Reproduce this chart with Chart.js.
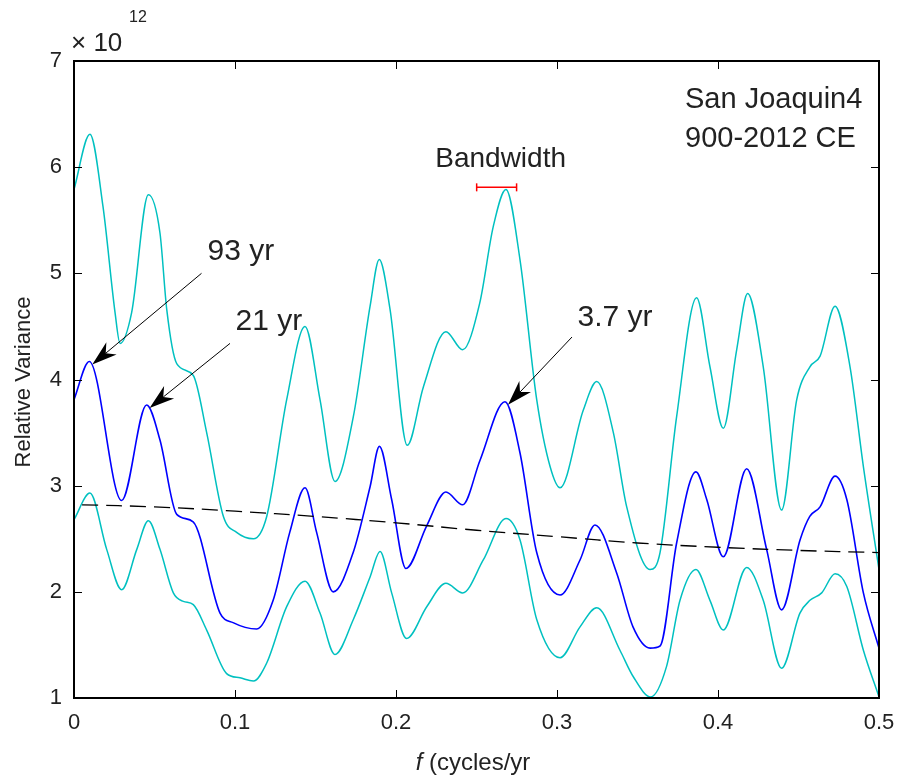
<!DOCTYPE html>
<html>
<head>
<meta charset="utf-8">
<script src="https://cdn.jsdelivr.net/npm/chart.js@4.4.0/dist/chart.umd.min.js"></script>
<style>
  html, body { margin: 0; padding: 0; background: #fff; }
  #wrap { width: 903px; height: 777px; }
</style>
</head>
<body>
<div id="wrap"><canvas id="myChart" width="903" height="777"></canvas></div>
<script>
// spectrum values, in units of 1e12
var meanFreq = [0, 0.0095, 0.0296, 0.0451, 0.0534, 0.0638, 0.074, 0.0907, 0.0988, 0.1135, 0.1237, 0.134, 0.1435, 0.1507, 0.161,
    0.1734, 0.1839, 0.1897, 0.1973, 0.2062, 0.219, 0.231, 0.2414, 0.2522, 0.2677, 0.277, 0.2874, 0.3019, 0.3143, 0.3236,
    0.337, 0.3472, 0.3578, 0.364, 0.3743, 0.3863, 0.393, 0.4033, 0.4178, 0.4302, 0.4395, 0.451, 0.457, 0.4634, 0.4727,
    0.48, 0.4903, 0.5];
var meanVals = [3.81, 4.17, 2.86, 3.76, 3.43, 2.73, 2.66, 1.80, 1.71, 1.65, 1.92, 2.56, 2.98, 2.56, 2.00,
    2.37, 2.99, 3.37, 2.87, 2.22, 2.62, 2.94, 2.82, 3.24, 3.79, 3.31, 2.37, 1.97, 2.30, 2.63,
    2.18, 1.67, 1.47, 1.49, 2.46, 3.13, 2.87, 2.33, 3.16, 2.40, 1.83, 2.49, 2.71, 2.80, 3.09,
    2.87, 1.99, 1.47];

var upperFreq = [0, 0.0099, 0.018, 0.0255, 0.0286, 0.0358, 0.0462, 0.0534, 0.0576, 0.0638, 0.074, 0.0824, 0.0928, 0.101,
    0.1114, 0.1197, 0.1321, 0.1435, 0.1528, 0.1621, 0.1735, 0.1839, 0.1896, 0.1963, 0.207, 0.217, 0.231, 0.2414, 0.252,
    0.2604, 0.2683, 0.277, 0.2874, 0.2957, 0.3019, 0.3163, 0.3247, 0.335, 0.3433, 0.3578, 0.364, 0.3743, 0.3867, 0.395,
    0.4033, 0.4116, 0.4184, 0.4281, 0.4395, 0.4489, 0.4571, 0.4634, 0.4727, 0.482, 0.4903, 0.5];
var upperVals = [5.79, 6.31, 5.63, 4.63, 4.34, 4.63, 5.74, 5.38, 4.66, 4.15, 4.04, 3.50, 2.71, 2.56,
    2.50, 2.71, 3.81, 4.50, 3.81, 3.04, 3.65, 4.69, 5.13, 4.66, 3.38, 3.93, 4.45, 4.28, 4.72,
    5.44, 5.79, 5.13, 3.81, 3.18, 2.98, 3.71, 3.98, 3.50, 2.80, 2.21, 2.37, 3.65, 4.77, 4.12,
    3.54, 4.28, 4.81, 4.12, 2.77, 3.81, 4.12, 4.22, 4.69, 4.12, 3.18, 2.21];

var lowerFreq = [0, 0.0099, 0.0203, 0.0296, 0.039, 0.0462, 0.0534, 0.0617, 0.0679, 0.0741, 0.0824, 0.0948, 0.1031, 0.1114,
    0.1197, 0.1321, 0.1435, 0.1528, 0.1621, 0.1735, 0.1839, 0.1901, 0.1973, 0.2066, 0.2191, 0.231, 0.2414, 0.2542, 0.2683,
    0.277, 0.2874, 0.3019, 0.3143, 0.3247, 0.3391, 0.3474, 0.3582, 0.3681, 0.3764, 0.3863, 0.395, 0.4033, 0.4178, 0.4281,
    0.4395, 0.4509, 0.4571, 0.4644, 0.4727, 0.48, 0.4903, 0.5];
var lowerVals = [2.68, 2.93, 2.40, 2.02, 2.40, 2.67, 2.40, 1.99, 1.91, 1.88, 1.64, 1.23, 1.19, 1.16,
    1.33, 1.86, 2.10, 1.80, 1.41, 1.74, 2.14, 2.38, 1.99, 1.56, 1.86, 2.08, 1.99, 2.30, 2.69,
    2.49, 1.74, 1.38, 1.67, 1.85, 1.45, 1.20, 1.01, 1.30, 1.92, 2.21, 1.92, 1.64, 2.23, 1.92,
    1.28, 1.80, 1.92, 1.99, 2.17, 2.05, 1.45, 1.01];

// red-noise background
var bgFreq = [0.005, 0.05, 0.1, 0.15, 0.2, 0.25, 0.3, 0.35, 0.4, 0.45, 0.5];
var bgVals = [2.82, 2.80, 2.76, 2.71, 2.65, 2.58, 2.52, 2.46, 2.42, 2.39, 2.37];

// bandwidth bar
var bwFreq = [0.2501, 0.2749];
var bwVals = [5.81, 5.81];

var xTicks = [0, 0.1, 0.2, 0.3, 0.4, 0.5];
var yTicks = [1, 2, 3, 4, 5, 6, 7];

// labelled peaks: text, text position, arrow tail, peak frequency
var peakLabels = ['93 yr', '21 yr', '3.7 yr'];
var peakFreqs = [0.0095, 0.0451, 0.2677];
var labelPos = [[0.1037, 5.20], [0.1211, 4.54], [0.336, 4.58]];
var tailPos = [[0.0792, 5.00], [0.0969, 4.34], [0.3093, 4.40]];

function pts(xs, ys) {
    return xs.map(function (v, i) { return { x: v, y: ys[i] }; });
}

var FONT = '"Liberation Sans", Arial, Helvetica, sans-serif';

function arrow(ctx, x0, y0, x1, y1) {
    var ang = Math.atan2(y1 - y0, x1 - x0);
    var len = 25, hw = 8;
    ctx.save();
    ctx.strokeStyle = '#000';
    ctx.lineWidth = 1;
    ctx.beginPath();
    ctx.moveTo(x0, y0);
    ctx.lineTo(x1 - Math.cos(ang) * len * 0.7, y1 - Math.sin(ang) * len * 0.7);
    ctx.stroke();
    ctx.translate(x1, y1);
    ctx.rotate(ang);
    ctx.fillStyle = '#000';
    ctx.beginPath();
    ctx.moveTo(0, 0);
    ctx.lineTo(-len, -hw);
    ctx.lineTo(-len * 0.7, 0);
    ctx.lineTo(-len, hw);
    ctx.closePath();
    ctx.fill();
    ctx.restore();
}

var decor = {
    id: 'decor',
    afterDraw: function (chart) {
        var ctx = chart.ctx, a = chart.chartArea;
        var x = chart.scales.x, y = chart.scales.y;
        ctx.save();
        // inward ticks on all four sides
        ctx.strokeStyle = '#000';
        ctx.lineWidth = 1;
        ctx.beginPath();
        xTicks.forEach(function (t) {
            var px = Math.round(x.getPixelForValue(t)) + 0.5;
            ctx.moveTo(px, a.bottom); ctx.lineTo(px, a.bottom - 8);
            ctx.moveTo(px, a.top); ctx.lineTo(px, a.top + 8);
        });
        yTicks.forEach(function (t) {
            var py = Math.round(y.getPixelForValue(t)) + 0.5;
            ctx.moveTo(a.left, py); ctx.lineTo(a.left + 8, py);
            ctx.moveTo(a.right, py); ctx.lineTo(a.right - 8, py);
        });
        ctx.stroke();
        ctx.lineWidth = 2;
        ctx.strokeRect(a.left, a.top, a.right - a.left, a.bottom - a.top);

        ctx.fillStyle = '#222';
        // exponent
        ctx.textBaseline = 'alphabetic';
        ctx.textAlign = 'left';
        ctx.font = '26px ' + FONT;
        ctx.fillText('\u00d7 10', 71, 51);
        ctx.font = '16px ' + FONT;
        ctx.fillText('12', 129, 22);

        // axis titles
        ctx.font = '22px ' + FONT;
        ctx.textAlign = 'center';
        ctx.textBaseline = 'middle';
        ctx.save();
        ctx.translate(24, 382);
        ctx.rotate(-Math.PI / 2);
        ctx.fillText('Relative Variance', 0, 0);
        ctx.restore();
        var t1 = 'f', t2 = ' (cycles/yr';
        ctx.font = '24px ' + FONT;
        var w2 = ctx.measureText(t2).width;
        ctx.font = 'italic 24px ' + FONT;
        var w1 = ctx.measureText(t1).width;
        var sx = 473 - (w1 + w2) / 2;
        ctx.textAlign = 'left';
        ctx.fillText(t1, sx, 763);
        ctx.font = '24px ' + FONT;
        ctx.fillText(t2, sx + w1, 763);

        // site label
        ctx.font = '29px ' + FONT;
        ctx.textAlign = 'left';
        ctx.textBaseline = 'alphabetic';
        ctx.fillText('San Joaquin4', 685, 108);
        ctx.fillText('900-2012 CE', 685, 147);

        // bandwidth label
        ctx.textAlign = 'center';
        ctx.font = '28px ' + FONT;
        ctx.fillText('Bandwidth', x.getPixelForValue((bwFreq[0] + bwFreq[1]) / 2) + 4, 167);

        // peak arrows and labels
        peakLabels.forEach(function (txt, i) {
            var k = meanFreq.indexOf(peakFreqs[i]);
            var tipX = x.getPixelForValue(meanFreq[k]) + 3;
            var tipY = y.getPixelForValue(meanVals[k]) + 3;
            arrow(ctx, x.getPixelForValue(tailPos[i][0]), y.getPixelForValue(tailPos[i][1]), tipX, tipY);
            ctx.fillStyle = '#222';
            ctx.textAlign = 'center';
            ctx.textBaseline = 'middle';
            ctx.font = '30px ' + FONT;
            ctx.fillText(txt, x.getPixelForValue(labelPos[i][0]), y.getPixelForValue(labelPos[i][1]));
        });
        ctx.restore();
    }
};

var ctx = document.getElementById('myChart').getContext('2d');
var chart = new Chart(ctx, {
    type: 'line',
    data: {
        datasets: [{
            label: 'Bandwidth',
            data: pts(bwFreq, bwVals),
            borderColor: '#ff0000',
            borderWidth: 1.5,
            pointStyle: 'line',
            rotation: 90,
            pointRadius: 4,
            pointBorderColor: '#ff0000',
            pointBorderWidth: 1.5,
            order: 0
        }, {
            label: 'Background',
            data: pts(bgFreq, bgVals),
            borderColor: '#000',
            borderWidth: 1.3,
            borderDash: [16, 8],
            pointRadius: 0,
            tension: 0.4,
            order: 1
        }, {
            label: 'Spectrum',
            data: pts(meanFreq, meanVals),
            borderColor: '#0000ff',
            borderWidth: 1.6,
            pointRadius: 0,
            cubicInterpolationMode: 'monotone',
            order: 2
        }, {
            label: 'Upper',
            data: pts(upperFreq, upperVals),
            borderColor: '#00c0c0',
            borderWidth: 1.5,
            pointRadius: 0,
            cubicInterpolationMode: 'monotone',
            order: 3
        }, {
            label: 'Lower',
            data: pts(lowerFreq, lowerVals),
            borderColor: '#00c0c0',
            borderWidth: 1.5,
            pointRadius: 0,
            cubicInterpolationMode: 'monotone',
            order: 3
        }]
    },
    options: {
        responsive: false,
        animation: false,
        layout: { padding: { left: 0, top: 61, right: 24, bottom: 0 } },
        plugins: { legend: { display: false }, tooltip: { enabled: false } },
        elements: { line: { fill: false } },
        scales: {
            x: {
                type: 'linear',
                min: 0,
                max: 0.5,
                afterFit: function (s) { s.height = 79; s.paddingLeft = 0; s.paddingRight = 0; },
                afterBuildTicks: function (s) { s.ticks = xTicks.map(function (v) { return { value: v }; }); },
                grid: { display: false, drawTicks: false },
                border: { display: false },
                ticks: {
                    padding: 12,
                    color: '#222',
                    font: { family: FONT, size: 22 },
                    maxRotation: 0,
                    callback: function (v) { return String(v); }
                }
            },
            y: {
                type: 'linear',
                min: 1,
                max: 7,
                afterFit: function (s) { s.width = 74; s.paddingTop = 0; s.paddingBottom = 0; },
                afterBuildTicks: function (s) { s.ticks = yTicks.map(function (v) { return { value: v }; }); },
                grid: { display: false, drawTicks: false },
                border: { display: false },
                ticks: {
                    padding: 12,
                    color: '#222',
                    font: { family: FONT, size: 22 },
                    callback: function (v) { return String(v); }
                }
            }
        }
    },
    plugins: [decor]
});
</script>
</body>
</html>
